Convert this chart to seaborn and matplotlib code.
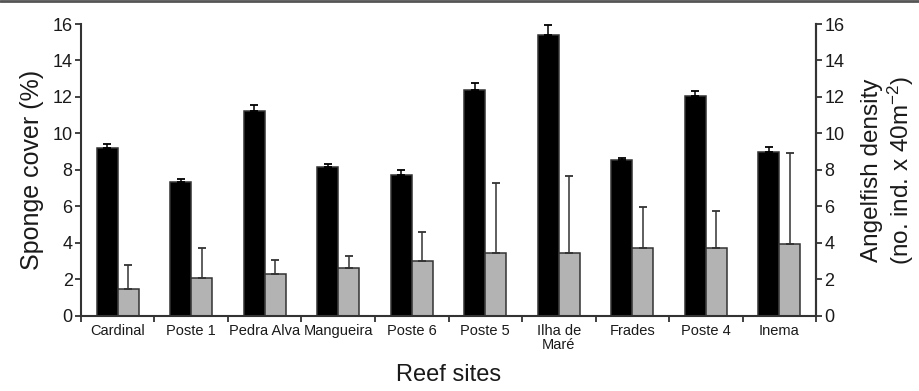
import numpy as np
import pandas as pd
import matplotlib
matplotlib.use("Agg")
import matplotlib.pyplot as plt
from matplotlib.lines import Line2D
import seaborn as sns

# Reef sites and the two measured variables (mean and upper standard error)
sites = ["Cardinal", "Poste 1", "Pedra Alva", "Mangueira", "Poste 6",
         "Poste 5", "Ilha de\nMaré", "Frades", "Poste 4", "Inema"]
sponge_cover = [9.2, 7.35, 11.25, 8.18, 7.7, 12.38, 15.4, 8.55, 12.07, 9.0]
sponge_se = [0.22, 0.17, 0.33, 0.12, 0.3, 0.37, 0.53, 0.12, 0.26, 0.24]
angelfish_density = [1.48, 2.1, 2.28, 2.6, 3.03, 3.43, 3.43, 3.75, 3.75, 3.95]
angelfish_se = [1.32, 1.65, 0.79, 0.69, 1.59, 3.84, 4.26, 2.2, 2.02, 5.0]

series_names = ["Sponge cover", "Angelfish density"]

df = pd.DataFrame({
    "site": sites * 2,
    "series": [series_names[0]] * len(sites) + [series_names[1]] * len(sites),
    "value": sponge_cover + angelfish_density,
})

sns.set_theme(style="white")
plt.rcParams["font.family"] = ["Liberation Sans", "DejaVu Sans"]
plt.rcParams["mathtext.fontset"] = "custom"
plt.rcParams["mathtext.rm"] = "Liberation Sans"
plt.rcParams["mathtext.it"] = "Liberation Sans:italic"

text_col = "#1a1a1a"
axis_col = "#333333"

fig = plt.figure(figsize=(9.2, 3.91), dpi=100)
ax = fig.add_axes([0.088, 0.192, 0.799, 0.7466])

sns.barplot(data=df, x="site", y="value", hue="series", order=sites,
            hue_order=series_names, palette=["#000000", "#b3b3b3"],
            width=0.572, errorbar=None, edgecolor=axis_col, linewidth=1.1,
            legend=False, ax=ax)

# Upper-only error bars at each bar centre
err_sets = [(sponge_cover, sponge_se, "#000000"),
            (angelfish_density, angelfish_se, axis_col)]
for container, (means, errs, col) in zip(ax.containers, err_sets):
    xs = [b.get_x() + b.get_width() / 2 for b in container]
    ax.errorbar(xs, means, yerr=[np.zeros(len(errs)), errs], fmt="none",
                ecolor=col, elinewidth=1.1, capsize=2.6, capthick=1.3, zorder=1)

ax.set_xlim(-0.5, len(sites) - 0.5)
ax.set_ylim(0, 16)
ax.set_yticks(np.arange(0, 17, 2))
ax.set_xticks(np.arange(len(sites)))
ax.set_xticklabels(sites, fontsize=10.5, linespacing=0.95)
ax.set_xticks(np.arange(-0.5, len(sites), 1), minor=True)
ax.tick_params(axis="x", which="major", length=0, pad=6, colors=text_col)
ax.tick_params(axis="x", which="minor", bottom=True, length=4, width=1.3,
               color=axis_col)
ax.tick_params(axis="y", left=True, length=4, width=1.3, color=axis_col,
               labelsize=13, pad=2, labelcolor=text_col)

for side in ["left", "bottom", "right"]:
    ax.spines[side].set_visible(True)
    ax.spines[side].set_color(axis_col)
    ax.spines[side].set_linewidth(1.5)
ax.spines["top"].set_visible(False)

ax.set_xlabel("Reef sites", fontsize=17, labelpad=9, color=text_col)
ax.set_ylabel("Sponge cover (%)", fontsize=18, labelpad=6, color=text_col)

ax2 = ax.twinx()
ax2.set_ylim(0, 16)
ax2.set_yticks(np.arange(0, 17, 2))
ax2.tick_params(axis="y", right=True, length=4, width=1.3, color=axis_col,
                labelsize=13, pad=2, labelcolor=text_col)
for side in ["left", "bottom", "top"]:
    ax2.spines[side].set_visible(False)
ax2.spines["right"].set_color(axis_col)
ax2.spines["right"].set_linewidth(1.5)
ax2.set_ylabel("Angelfish density\n(no. ind. x 40m$^{-2}$)", fontsize=17.5,
               labelpad=12, color=text_col, linespacing=1.1)

fig.add_artist(Line2D([0, 1], [0.998, 0.998], transform=fig.transFigure,
                      color="#555555", linewidth=2))

fig.savefig("out.png", dpi=100)
